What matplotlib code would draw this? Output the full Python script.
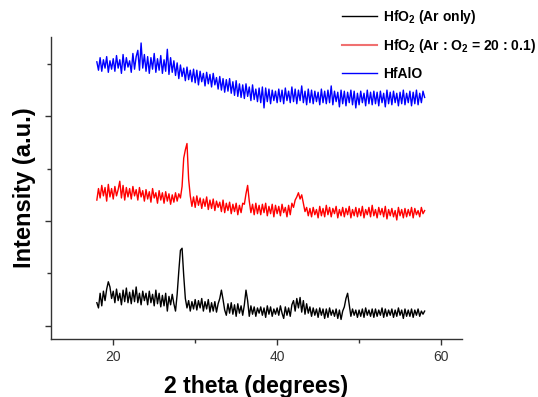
import numpy as np
import matplotlib
matplotlib.use('Agg')
import matplotlib.pyplot as plt
from matplotlib.lines import Line2D
from matplotlib.ticker import MultipleLocator

plt.rcParams['font.family'] = ['Liberation Sans', 'DejaVu Sans']
plt.rcParams['mathtext.fontset'] = 'custom'
plt.rcParams['mathtext.bf'] = 'Liberation Sans:bold'
plt.rcParams['mathtext.rm'] = 'Liberation Sans:bold'
plt.rcParams['mathtext.default'] = 'bf'

# 2 theta grid, 0.2 deg step from 18 to 58
two_theta = np.round(np.linspace(18, 58, 201), 1)

# intensities (arbitrary units, curves already offset)
hfo2_ar = [
    22, 17, 31, 19, 33, 24, 35, 42, 37, 26,
    33, 22, 35, 24, 31, 20, 34, 23, 36, 22,
    32, 21, 34, 23, 37, 22, 31, 20, 33, 24,
    31, 20, 33, 22, 30, 19, 34, 21, 31, 18,
    29, 19, 31, 14, 28, 20, 30, 21, 14, 30,
    52, 72, 74, 48, 26, 17, 24, 14, 23, 16,
    25, 15, 24, 17, 26, 14, 23, 16, 25, 13,
    22, 14, 23, 13, 21, 26, 34, 25, 15, 10,
    21, 12, 22, 11, 20, 9, 21, 12, 19, 10,
    20, 34, 24, 9, 19, 11, 18, 9, 17, 12,
    18, 10, 17, 8, 19, 11, 18, 9, 16, 11,
    17, 10, 19, 12, 7, 18, 10, 17, 9, 20,
    24, 14, 26, 17, 27, 13, 24, 11, 21, 12,
    18, 9, 17, 10, 16, 8, 17, 10, 16, 7,
    16, 8, 17, 10, 15, 9, 16, 7, 15, 6,
    14, 18, 26, 31, 20, 9, 16, 10, 15, 8,
    15, 9, 16, 8, 17, 10, 15, 9, 16, 8,
    16, 9, 15, 10, 17, 8, 16, 9, 15, 10,
    16, 8, 15, 9, 17, 10, 15, 7, 16, 9,
    15, 9, 16, 8, 15, 10, 16, 9, 14, 11,
    14]

hfo2_ar_o2 = [
    120, 131, 122, 134, 124, 132, 119, 135, 123, 131,
    121, 133, 124, 130, 138, 122, 134, 120, 132, 123,
    131, 121, 133, 124, 130, 120, 132, 123, 129, 119,
    130, 121, 128, 118, 131, 122, 127, 117, 129, 120,
    127, 117, 128, 119, 126, 116, 125, 118, 127, 119,
    126, 122, 133, 160, 168, 174, 140, 124, 114, 123,
    113, 124, 115, 122, 112, 121, 114, 123, 111, 120,
    112, 121, 110, 119, 113, 118, 109, 120, 108, 117,
    110, 118, 107, 116, 109, 117, 106, 115, 108, 117,
    116, 126, 134, 119, 108, 116, 106, 117, 107, 115,
    106, 116, 108, 117, 105, 114, 107, 116, 104, 115,
    107, 114, 105, 116, 108, 113, 104, 115, 106, 117,
    113, 120, 123, 127, 121, 125, 117, 109, 113, 105,
    112, 104, 113, 106, 111, 103, 114, 105, 112, 104,
    115, 106, 113, 104, 112, 107, 114, 103, 111, 105,
    113, 104, 112, 106, 114, 103, 111, 105, 113, 104,
    112, 105, 114, 103, 111, 106, 113, 104, 115, 105,
    111, 103, 113, 106, 112, 104, 114, 102, 111, 105,
    112, 104, 110, 101, 113, 105, 111, 103, 112, 104,
    111, 105, 113, 103, 112, 106, 110, 104, 113, 107,
    110]

hfalo = [
    252, 244, 256, 243, 254, 246, 257, 242, 253, 245,
    255, 243, 258, 246, 254, 241, 259, 244, 256, 247,
    253, 242, 260, 245, 257, 263, 244, 270, 246, 259,
    243, 257, 241, 256, 245, 260, 242, 255, 244, 258,
    241, 254, 243, 264, 240, 256, 242, 253, 239, 251,
    236, 249, 238, 246, 234, 247, 235, 244, 233, 245,
    232, 244, 230, 243, 233, 241, 229, 242, 231, 240,
    228, 241, 230, 237, 226, 238, 225, 236, 223, 235,
    224, 236, 222, 233, 220, 234, 219, 231, 218, 230,
    217, 231, 219, 228, 215, 230, 216, 226, 214, 227,
    213, 228, 208, 227, 214, 226, 212, 225, 215, 224,
    213, 226, 214, 225, 212, 227, 215, 224, 213, 228,
    214, 226, 212, 225, 215, 229, 213, 224, 211, 226,
    213, 225, 212, 224, 214, 223, 211, 226, 213, 224,
    212, 225, 213, 229, 211, 224, 214, 223, 209, 225,
    212, 224, 210, 223, 213, 225, 211, 224, 208, 222,
    211, 224, 213, 222, 210, 225, 212, 223, 211, 224,
    212, 223, 210, 224, 213, 222, 209, 225, 212, 223,
    211, 224, 213, 222, 210, 223, 212, 225, 211, 222,
    213, 224, 210, 223, 212, 225, 211, 222, 213, 224,
    218]

labels = [r'HfO$_2$ (Ar only)', r'HfO$_2$ (Ar : O$_2$ = 20 : 0.1)', 'HfAlO']

fig = plt.figure(figsize=(5.38, 3.97), dpi=100)
ax = fig.add_axes([0.0944, 0.146, 0.7642, 0.761])

ax.plot(two_theta, hfo2_ar, color='black', lw=1.0)
ax.plot(two_theta, hfo2_ar_o2, color='red', lw=1.0)
ax.plot(two_theta, hfalo, color='blue', lw=1.0)

ax.set_xlim(12.38, 62.55)
ax.set_ylim(-12.7, 275.8)
ax.xaxis.set_major_locator(MultipleLocator(20))
ax.xaxis.set_minor_locator(MultipleLocator(10))
ax.yaxis.set_major_locator(MultipleLocator(100))
ax.yaxis.set_minor_locator(MultipleLocator(50))
ax.tick_params(which='major', direction='out', length=4.5, width=1.0,
               color='#333333', labelsize=10, labelcolor='#333333')
ax.tick_params(which='minor', direction='out', length=2.7, width=1.0, color='#333333')
ax.tick_params(axis='y', which='both', labelleft=False)

for side in ['top', 'right']:
    ax.spines[side].set_visible(False)
for side in ['left', 'bottom']:
    ax.spines[side].set_color('#333333')
    ax.spines[side].set_linewidth(1.0)

ax.set_xlabel('2 theta (degrees)', fontsize=16.7, fontweight='bold', labelpad=8)
ax.set_ylabel('Intensity (a.u.)', fontsize=17, fontweight='bold', labelpad=6)

# legend sits above/right of the axes, red handle looks lighter in the original
handles = [Line2D([], [], color='black', lw=1.0),
           Line2D([], [], color='#f07070', lw=1.5),
           Line2D([], [], color='blue', lw=1.0)]
fig.legend(handles, labels, loc='upper left', bbox_to_anchor=(0.625, 0.995),
           frameon=False, handlelength=2.5, handletextpad=0.5,
           labelspacing=0.85, borderaxespad=0.0,
           prop={'weight': 'bold', 'size': 10})

fig.savefig('out.png', dpi=100)
